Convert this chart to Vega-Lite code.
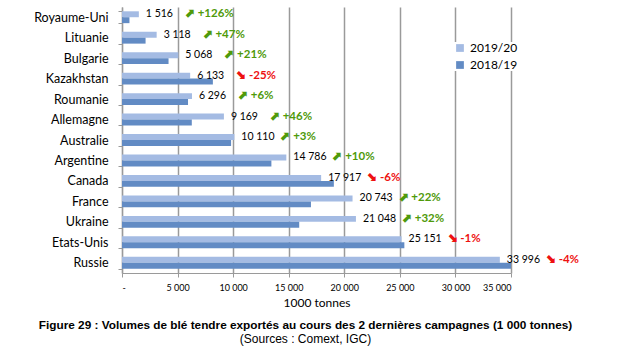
{
  "$schema": "https://vega.github.io/schema/vega-lite/v6.json",
  "autosize": {"type": "none"},
  "width": 389,
  "height": 266,
  "padding": {"left": 122, "top": 7, "right": 123, "bottom": 81},
  "background": "white",
  "config": {
    "locale": {"number": {"decimal": ",", "thousands": " ", "grouping": [3], "currency": ["", " €"]}},
    "view": {"stroke": null},
    "font": "Lato"
  },
  "title": {
    "text": "Figure 29 : Volumes de blé tendre exportés au cours des 2 dernières campagnes (1 000 tonnes)",
    "subtitle": "(Sources : Comext, IGC)",
    "orient": "bottom",
    "anchor": "middle",
    "dx": -11,
    "offset": 12,
    "font": "Liberation Sans",
    "fontSize": 11.8,
    "fontWeight": "bold",
    "color": "#000000",
    "subtitleFont": "Liberation Sans",
    "subtitleFontSize": 12,
    "subtitleColor": "#000000",
    "subtitlePadding": 2
  },
  "data": {
    "values": [
      {"pays": "Royaume-Uni", "campagne": "2019/20", "v": 1516, "evol": "+126%"},
      {"pays": "Royaume-Uni", "campagne": "2018/19", "v": 671},
      {"pays": "Lituanie", "campagne": "2019/20", "v": 3118, "evol": "+47%"},
      {"pays": "Lituanie", "campagne": "2018/19", "v": 2121},
      {"pays": "Bulgarie", "campagne": "2019/20", "v": 5068, "evol": "+21%"},
      {"pays": "Bulgarie", "campagne": "2018/19", "v": 4188},
      {"pays": "Kazakhstan", "campagne": "2019/20", "v": 6133, "evol": "-25%"},
      {"pays": "Kazakhstan", "campagne": "2018/19", "v": 8177},
      {"pays": "Roumanie", "campagne": "2019/20", "v": 6296, "evol": "+6%"},
      {"pays": "Roumanie", "campagne": "2018/19", "v": 5940},
      {"pays": "Allemagne", "campagne": "2019/20", "v": 9169, "evol": "+46%"},
      {"pays": "Allemagne", "campagne": "2018/19", "v": 6280},
      {"pays": "Australie", "campagne": "2019/20", "v": 10110, "evol": "+3%"},
      {"pays": "Australie", "campagne": "2018/19", "v": 9816},
      {"pays": "Argentine", "campagne": "2019/20", "v": 14786, "evol": "+10%"},
      {"pays": "Argentine", "campagne": "2018/19", "v": 13442},
      {"pays": "Canada", "campagne": "2019/20", "v": 17917, "evol": "-6%"},
      {"pays": "Canada", "campagne": "2018/19", "v": 19061},
      {"pays": "France", "campagne": "2019/20", "v": 20743, "evol": "+22%"},
      {"pays": "France", "campagne": "2018/19", "v": 17002},
      {"pays": "Ukraine", "campagne": "2019/20", "v": 21048, "evol": "+32%"},
      {"pays": "Ukraine", "campagne": "2018/19", "v": 15945},
      {"pays": "Etats-Unis", "campagne": "2019/20", "v": 25151, "evol": "-1%"},
      {"pays": "Etats-Unis", "campagne": "2018/19", "v": 25405},
      {"pays": "Russie", "campagne": "2019/20", "v": 33996, "evol": "-4%"},
      {"pays": "Russie", "campagne": "2018/19", "v": 35413}
    ]
  },
  "encoding": {
    "y": {
      "field": "pays",
      "type": "nominal",
      "sort": null,
      "scale": {"paddingInner": 0.42, "paddingOuter": 0.21},
      "axis": {
        "title": null,
        "tickBand": "extent",
        "domainColor": "#9a9a9a",
        "domainWidth": 1.2,
        "tickColor": "#9a9a9a",
        "tickSize": 4,
        "labelPadding": 10,
        "labelFont": "Lato",
        "labelFontSize": 12.5,
        "labelColor": "#000000"
      }
    }
  },
  "layer": [
    {
      "mark": {"type": "bar", "clip": true},
      "encoding": {
        "x": {
          "field": "v",
          "type": "quantitative",
          "scale": {"domain": [0, 35000], "nice": false},
          "axis": {
            "title": "1000 tonnes",
            "titleFont": "Lato",
            "titleFontSize": 12,
            "titleFontWeight": "normal",
            "titleColor": "#000000",
            "titlePadding": 5,
            "values": [0, 5000, 10000, 15000, 20000, 25000, 30000, 35000],
            "labelExpr": "datum.value == 0 ? '-' : format(datum.value, ',')",
            "labelFont": "Lato",
            "labelFontSize": 9,
            "labelColor": "#000000",
            "labelPadding": 6,
            "grid": true,
            "gridColor": "#9a9a9a",
            "gridWidth": 1.5,
            "domainColor": "#9a9a9a",
            "tickColor": "#9a9a9a",
            "tickSize": 4
          }
        },
        "yOffset": {"field": "campagne", "type": "nominal", "sort": ["2019/20", "2018/19"]},
        "color": {
          "field": "campagne",
          "type": "nominal",
          "sort": ["2019/20", "2018/19"],
          "scale": {"domain": ["2019/20", "2018/19"], "range": ["#a4bbe3", "#628bc4"]},
          "legend": {
            "title": null,
            "orient": "none",
            "legendX": 332,
            "legendY": 35,
            "symbolType": "square",
            "symbolSize": 60,
            "symbolStrokeWidth": 0,
            "labelFont": "Lato",
            "labelFontSize": 12,
            "labelColor": "#000000",
            "rowPadding": 5,
            "fillColor": "white"
          }
        }
      }
    },
    {
      "transform": [{"filter": "datum.campagne == '2019/20'"}],
      "mark": {"type": "text", "align": "left", "baseline": "middle", "dx": 7, "dy": -3, "font": "Lato", "fontSize": 10.5, "color": "#000000"},
      "encoding": {
        "x": {"field": "v", "type": "quantitative"},
        "text": {"field": "v", "type": "quantitative", "format": ","}
      }
    },
    {
      "transform": [
        {"filter": "datum.campagne == '2019/20'"},
        {"calculate": "indexof(datum.evol, '+') == 0 ? '⬈ ' + datum.evol : '⬊ ' + datum.evol", "as": "lab"}
      ],
      "mark": {"type": "text", "align": "left", "baseline": "middle", "dx": 46, "dy": -3, "font": "Lato", "fontSize": 11.5, "fontWeight": "bold"},
      "encoding": {
        "x": {"field": "v", "type": "quantitative"},
        "text": {"field": "lab"},
        "color": {
          "condition": {"test": "indexof(datum.evol, '+') == 0", "value": "#4f9a0a"},
          "value": "#ee1111"
        }
      }
    }
  ]
}
